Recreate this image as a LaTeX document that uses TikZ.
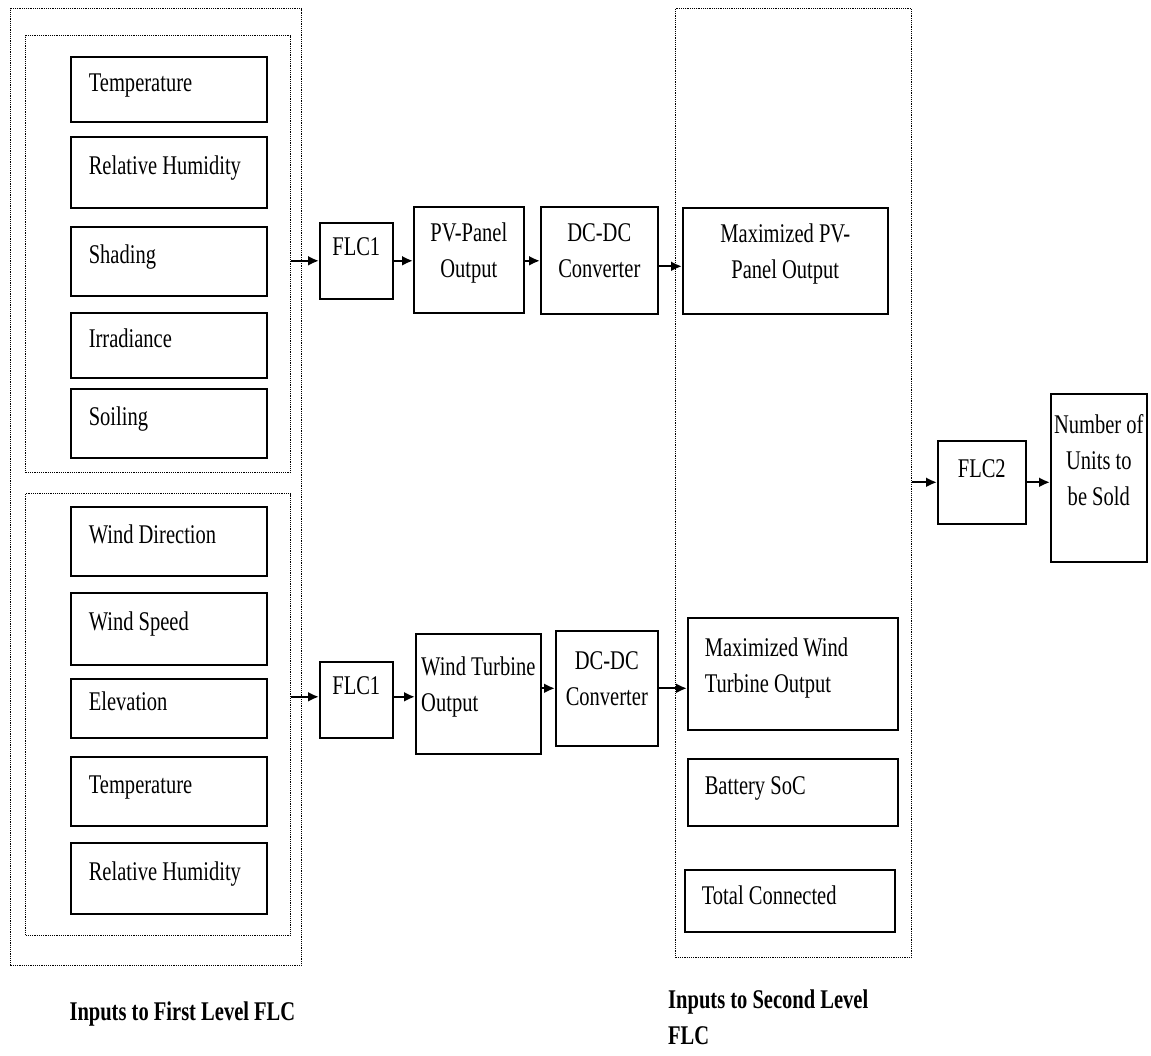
\documentclass[tikz,border=0pt]{standalone}
\usepackage{fontspec}
\setmainfont{Liberation Serif}[FakeStretch=0.76]
\usepackage{tikz}
\usetikzlibrary{arrows.meta}
\usetikzlibrary{calc}

\newcommand{\lift}{\\[-16pt]\mbox{}}

\begin{document}
\begin{tikzpicture}[x=1pt, y=-1pt,
    font=\fontsize{27pt}{36pt}\selectfont,
    box/.style={draw, line width=1.6pt, anchor=north west, inner sep=0pt},
    inbox/.style={box, minimum width=196pt, text width=160pt, align=flush left, text height=18pt, text depth=14pt},
    outbox/.style={box, minimum width=210pt, text width=176pt, align=flush left},
    flcbox/.style={box, text height=18pt, text depth=28pt},
    grp/.style={draw, densely dotted, line width=1.2pt, anchor=north west, inner sep=0pt},
    arr/.style={-{Latex[length=11pt,width=10pt]}, line width=2.2pt}]

    \useasboundingbox (0,0) rectangle (1151,1055);

    % dotted groups
    \node[grp, minimum width=291pt, minimum height=957pt] (firstlvl) at (10,8) {};
    \node[grp, minimum width=265pt, minimum height=437pt] (pvgrp) at (25,35) {};
    \node[grp, minimum width=265pt, minimum height=442pt] (wtgrp) at (25,493) {};
    \node[grp, minimum width=236pt, minimum height=949pt] (secondlvl) at (675,8) {};

    % inputs, PV side
    \node[inbox, minimum height=65pt] (temp1) at (70,56) {Temperature};
    \node[inbox, minimum height=71pt] (hum1) at (70,136) {Relative Humidity};
    \node[inbox, minimum height=69pt] (shade) at (70,226) {Shading};
    \node[inbox, minimum height=65pt] (irr) at (70,312) {Irradiance};
    \node[inbox, minimum height=69pt] (soil) at (70,388) {Soiling};

    % inputs, wind side
    \node[inbox, minimum height=69pt] (winddir) at (70,506) {Wind Direction};
    \node[inbox, minimum height=72pt] (windspd) at (70,592) {Wind Speed};
    \node[inbox, minimum height=59pt] (elev) at (70,678) {Elevation};
    \node[inbox, minimum height=69pt] (temp2) at (70,756) {Temperature};
    \node[inbox, minimum height=71pt] (hum2) at (70,842) {Relative Humidity};

    % PV chain
    \node[flcbox, minimum width=73pt, minimum height=76pt] (flcpv) at (319,222) {FLC1};
    \node[box, align=center, minimum width=110pt, minimum height=106pt] (pvout) at (413,206) {PV-Panel\\Output\lift};
    \node[box, align=center, minimum width=117pt, minimum height=107pt] (dcpv) at (540,206) {DC-DC\\Converter\lift};
    \node[box, align=center, minimum width=205pt, minimum height=106pt] (maxpv) at (682,207) {Maximized PV-\\Panel Output\lift};

    % wind chain
    \node[flcbox, minimum width=73pt, minimum height=76pt] (flcwt) at (319,661) {FLC1};
    \node[box, align=flush left, minimum width=125pt, minimum height=120pt] (wtout) at (415,633) {Wind Turbine\\Output\lift};
    \node[box, align=center, minimum width=102pt, minimum height=115pt] (dcwt) at (555,630) {DC-DC\\Converter\lift};
    \node[outbox, minimum height=112pt] (maxwt) at (687,617) {Maximized Wind\\Turbine Output\\[-18pt]\mbox{}};
    \node[outbox, minimum height=67pt, text height=18pt, text depth=14pt] (soc) at (687,758) {Battery SoC};
    \node[outbox, minimum height=62pt, text height=18pt, text depth=10pt] (conn) at (684,869) {Total Connected};

    % second level
    \node[flcbox, minimum width=88pt, minimum height=83pt] (flctwo) at (937,440) {FLC2};
    \node[box, align=center, minimum width=96pt, minimum height=168pt] (units) at (1050,393) {Number of\\Units to\\be Sold\\\mbox{}};

    % arrows
    \draw[arr] (pvgrp.east |- flcpv) -- (flcpv.west);
    \draw[arr] (flcpv.east) -- (flcpv.east -| pvout.west);
    \draw[arr] (flcpv.east -| pvout.east) -- (flcpv.east -| dcpv.west);
    \draw[arr] ($(dcpv.east)+(0,6)$) -- ($(dcpv.east -| maxpv.west)+(0,6)$);

    \draw[arr] ($(wtgrp.east |- flcwt)+(0,-3)$) -- ($(flcwt.west)+(0,-3)$);
    \draw[arr] ($(flcwt.east)+(0,-3)$) -- ($(flcwt.east -| wtout.west)+(0,-3)$);
    \draw[arr] (dcwt.west -| wtout.east) -- (dcwt.west);
    \draw[arr] (dcwt.east) -- (dcwt.east -| maxwt.west);

    \draw[arr] (secondlvl.east |- flctwo) -- (flctwo.west);
    \draw[arr] (flctwo.east) -- (flctwo.east -| units.west);

    % captions
    \node[anchor=west, font=\fontsize{27pt}{36pt}\selectfont\bfseries] (lbl1) at (66,1014) {Inputs to First Level FLC};
    \node[anchor=north west, align=left, inner sep=0pt, font=\fontsize{27pt}{36pt}\selectfont\bfseries] (lbl2) at (668,990) {Inputs to Second Level\\FLC};
\end{tikzpicture}
\end{document}
